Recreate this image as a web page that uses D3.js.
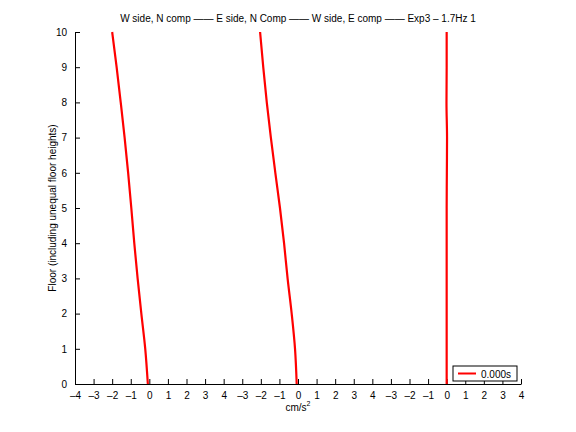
<!DOCTYPE html>
<html>
<head>
<meta charset="utf-8">
<script src="https://cdn.jsdelivr.net/npm/d3@7"></script>
<style>
  body { margin: 0; background: #fff; }
  svg text { font-family: "Liberation Sans", Arial, sans-serif; fill: #000; }
</style>
</head>
<body>
<div id="chart"></div>
<script>
// floors, and the three response profiles (one per panel, each plotted on its own -4..4 range)
var floors = [0, 1, 2, 3, 4, 5, 6, 7, 8, 9, 10];
var wSideN = [-0.08, -0.22, -0.43, -0.63, -0.81, -0.97, -1.14, -1.33, -1.54, -1.76, -2.0];
var eSideN = [-0.07, -0.16, -0.34, -0.56, -0.75, -0.97, -1.22, -1.46, -1.68, -1.87, -2.04];
var wSideE = [0.0, 0.0, 0.0, 0.0, 0.0, 0.0, 0.01, 0.02, -0.01, 0.0, 0.0];
var panelOffsets = [0, 8, 16];
var xTickValues = d3.range(-4, 21);
var xTickLabels = ["–4", "–3", "–2", "–1", "0", "1", "2", "3", "4",
  "–3", "–2", "–1", "0", "1", "2", "3", "4",
  "–3", "–2", "–1", "0", "1", "2", "3", "4"];
var yTicks = [0, 1, 2, 3, 4, 5, 6, 7, 8, 9, 10];
var legendLabel = "0.000s";
var title = "W side, N comp —— E side, N Comp —— W side, E comp —— Exp3 – 1.7Hz 1";

var W = 576, H = 432;
var margin = { left: 75, right: 55, top: 32, bottom: 48 };

var svg = d3.select("#chart").append("svg")
  .attr("width", W).attr("height", H);

var x = d3.scaleLinear().domain([-4, 20]).range([margin.left, W - margin.right]);
var y = d3.scaleLinear().domain([0, 10]).range([H - margin.bottom, margin.top]);

// axes (ticks drawn inward, like matlab)
var xAxis = d3.axisBottom(x)
  .tickValues(xTickValues)
  .tickSizeInner(-5).tickSizeOuter(0)
  .tickPadding(8)
  .tickFormat(function (d, i) { return xTickLabels[i]; });

var gx = svg.append("g")
  .attr("transform", "translate(0," + y(0) + ")")
  .call(xAxis);

var yAxis = d3.axisLeft(y)
  .tickValues(yTicks)
  .tickSizeInner(-5).tickSizeOuter(0)
  .tickPadding(8);

var gy = svg.append("g")
  .attr("transform", "translate(" + x(-4) + ",0)")
  .call(yAxis);

[gx, gy].forEach(function (g) {
  g.selectAll("path, line").attr("stroke", "#000").attr("stroke-width", 1);
  g.selectAll("text").style("font-size", "10px");
});

// profiles
var line = d3.line()
  .x(function (d) { return x(d.v); })
  .y(function (d) { return y(d.f); })
  .curve(d3.curveMonotoneY);

[wSideN, eSideN, wSideE].forEach(function (vals, k) {
  var pts = floors.map(function (f, i) { return { f: f, v: vals[i] + panelOffsets[k] }; });
  svg.append("path")
    .datum(pts)
    .attr("fill", "none")
    .attr("stroke", "#ff0000")
    .attr("stroke-width", 2.2)
    .attr("d", line);
});

// title and labels
svg.append("text")
  .attr("x", (x(-4) + x(20)) / 2).attr("y", 22)
  .attr("text-anchor", "middle")
  .style("font-size", "10px")
  .text(title);

var xl = svg.append("text")
  .attr("x", (x(-4) + x(20)) / 2).attr("y", 411)
  .attr("text-anchor", "middle")
  .style("font-size", "10px")
  .text("cm/s");
xl.append("tspan").attr("dy", -5).style("font-size", "7px").text("2");

svg.append("text")
  .attr("transform", "translate(56," + (y(5)) + ") rotate(-90)")
  .attr("text-anchor", "middle")
  .style("font-size", "10px")
  .text("Floor (including unequal floor heights)");

// legend
var lg = svg.append("g").attr("transform", "translate(453,366)");
lg.append("rect").attr("width", 64).attr("height", 15)
  .attr("fill", "#fff").attr("stroke", "#000").attr("stroke-width", 1);
lg.append("line").attr("x1", 5).attr("x2", 23).attr("y1", 7.5).attr("y2", 7.5)
  .attr("stroke", "#ff0000").attr("stroke-width", 2);
lg.append("text").attr("x", 28).attr("y", 11.5)
  .style("font-size", "10px").text(legendLabel);
</script>
</body>
</html>
